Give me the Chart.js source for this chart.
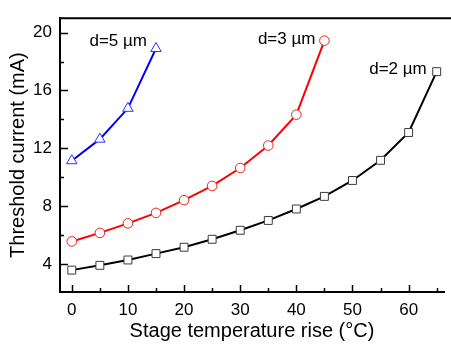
<!DOCTYPE html>
<html>
<head>
<meta charset="utf-8">
<script src="https://cdn.jsdelivr.net/npm/chart.js@4.4.1/dist/chart.umd.min.js"></script>
<style>
  html, body { margin: 0; padding: 0; background: #fff; }
  #wrap { width: 451px; height: 349px; }
</style>
</head>
<body>
<div id="wrap"><canvas id="chart_threshold"></canvas></div>
<script>
// temperature rise (°C)
var temp2 = [0, 5, 10, 15, 20, 25, 30, 35, 40, 45, 50, 55, 60, 65];
var temp3 = [0, 5, 10, 15, 20, 25, 30, 35, 40, 45];
var temp5 = [0, 5, 10, 15];

// threshold current (mA)
var current2 = [3.6, 3.93, 4.3, 4.74, 5.18, 5.73, 6.35, 7.03, 7.82, 8.69, 9.79, 11.18, 13.1, 17.3];
var current3 = [5.58, 6.17, 6.83, 7.55, 8.43, 9.41, 10.65, 12.2, 14.33, 19.44];
var current5 = [11.15, 12.64, 14.77, 18.9];

var seriesLabels = ['d=2 \u00b5m', 'd=3 \u00b5m', 'd=5 \u00b5m'];

var xTickValues = [0, 10, 20, 30, 40, 50, 60];
var yTickValues = [4, 8, 12, 16, 20];

function pts(xs, ys) {
    return xs.map(function (x, i) { return { x: x, y: ys[i] }; });
}

var FONT = "'Liberation Sans', Arial, sans-serif";

// inward tick marks, top frame line and the series labels
var axisDecor = {
    id: 'axisDecor',
    afterDraw: function (chart) {
        var ctx = chart.ctx;
        var a = chart.chartArea;
        var xs = chart.scales.x, ys = chart.scales.y;
        ctx.save();
        ctx.strokeStyle = '#000';
        ctx.lineWidth = 1.5;
        ctx.beginPath();
        for (var v = 0; v <= 65; v += 5) {
            var px = Math.round(xs.getPixelForValue(v)) + 0.5;
            var len = (v % 10 === 0) ? 7 : 4;
            ctx.moveTo(px, a.bottom);
            ctx.lineTo(px, a.bottom - len);
        }
        for (var w = 4; w <= 20; w += 2) {
            var py = Math.round(ys.getPixelForValue(w)) + 0.5;
            var l2 = (w % 4 === 0) ? 8 : 4;
            ctx.moveTo(a.left, py);
            ctx.lineTo(a.left + l2, py);
        }
        ctx.stroke();
        ctx.lineWidth = 2;
        ctx.beginPath();
        ctx.moveTo(a.left - 1, a.top);
        ctx.lineTo(chart.width, a.top);
        ctx.stroke();

        ctx.font = '17px ' + FONT;
        ctx.fillStyle = '#000';
        ctx.textAlign = 'right';
        ctx.textBaseline = 'middle';
        var offs = [[-10, -2], [-9, -1], [-9, -7]];
        chart.data.datasets.forEach(function (ds, i) {
            var meta = chart.getDatasetMeta(i);
            var last = meta.data[meta.data.length - 1];
            ctx.fillText(seriesLabels[i], last.x + offs[i][0], last.y + offs[i][1]);
        });
        ctx.restore();
    }
};

var whiteBg = {
    id: 'whiteBg',
    beforeDraw: function (chart) {
        var ctx = chart.ctx;
        ctx.save();
        ctx.fillStyle = 'white';
        ctx.fillRect(0, 0, chart.width, chart.height);
        ctx.restore();
    }
};

var chart_threshold = new Chart(document.getElementById('chart_threshold'), {
    type: 'line',
    data: {
        datasets: [
            {
                label: seriesLabels[0],
                data: pts(temp2, current2),
                borderColor: '#000000',
                borderWidth: 2,
                pointStyle: 'rect',
                pointRadius: 5.6,
                pointBorderWidth: 1,
                pointBorderColor: '#3a3a3a',
                pointBackgroundColor: '#ffffff'
            },
            {
                label: seriesLabels[1],
                data: pts(temp3, current3),
                borderColor: '#ff0000',
                borderWidth: 2,
                pointStyle: 'circle',
                pointRadius: 4.8,
                pointBorderWidth: 1,
                pointBorderColor: '#ee2222',
                pointBackgroundColor: '#ffffff'
            },
            {
                label: seriesLabels[2],
                data: pts(temp5, current5),
                borderColor: '#0000ee',
                borderWidth: 2,
                pointStyle: 'triangle',
                pointRadius: 6,
                pointBorderWidth: 1,
                pointBorderColor: '#3030ff',
                pointBackgroundColor: '#ffffff'
            }
        ]
    },
    options: {
        animation: false,
        responsive: true,
        maintainAspectRatio: false,
        layout: { padding: { top: 5, right: 0, left: 0, bottom: 0 } },
        plugins: {
            legend: { display: false },
            tooltip: { enabled: false }
        },
        scales: {
            x: {
                type: 'linear',
                min: -2.1,
                max: 66.3,
                afterFit: function (s) { s.height = 57; },
                afterBuildTicks: function (s) {
                    s.ticks = xTickValues.map(function (v) { return { value: v }; });
                },
                grid: { display: false, drawTicks: false },
                border: { display: true, color: '#000', width: 2 },
                ticks: {
                    padding: 8,
                    color: '#000',
                    maxRotation: 0,
                    font: { family: FONT, size: 17 }
                },
                title: {
                    display: true,
                    text: 'Stage temperature rise (\u00b0C)',
                    color: '#000',
                    font: { family: FONT, size: 20 },
                    padding: { top: 0, bottom: 6 }
                }
            },
            y: {
                type: 'linear',
                min: 2.09,
                max: 20.99,
                afterFit: function (s) { s.width = 60; },
                afterBuildTicks: function (s) {
                    s.ticks = yTickValues.map(function (v) { return { value: v }; });
                },
                grid: { display: false, drawTicks: false },
                border: { display: true, color: '#000', width: 2 },
                ticks: {
                    padding: 8,
                    color: '#000',
                    font: { family: FONT, size: 17 }
                },
                title: {
                    display: true,
                    text: 'Threshold current (mA)',
                    color: '#000',
                    font: { family: FONT, size: 20 },
                    padding: { top: 6, bottom: 0 }
                }
            }
        }
    },
    plugins: [whiteBg, axisDecor]
});
</script>
</body>
</html>
